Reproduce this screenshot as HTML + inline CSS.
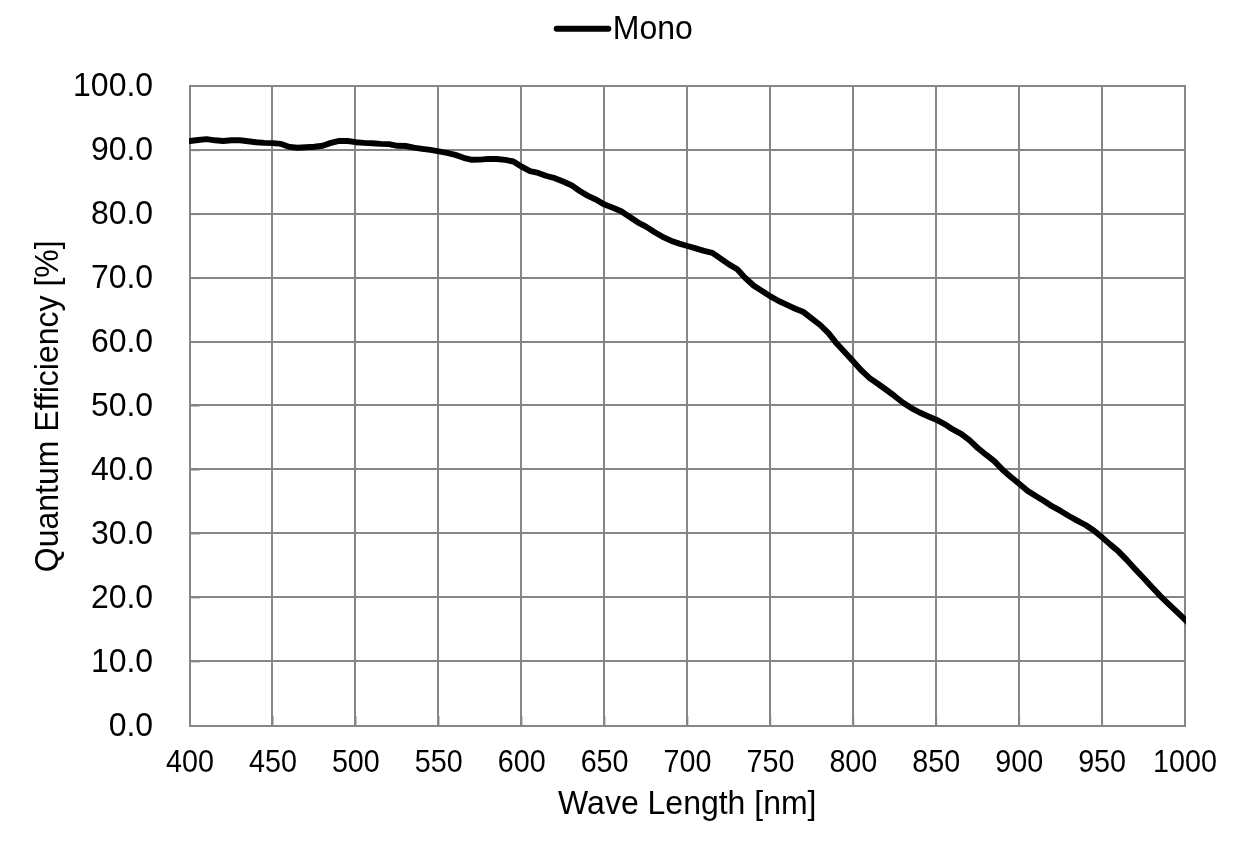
<!DOCTYPE html>
<html><head><meta charset="utf-8"><title>Quantum Efficiency</title>
<style>
html,body{margin:0;padding:0;background:#fff;}
body{width:1239px;height:847px;overflow:hidden;font-family:"Liberation Sans",sans-serif;}
svg{display:block;}
text{font-family:"Liberation Sans",sans-serif;fill:#000;}
.yl{font-size:32px;text-anchor:end;}
.xl{font-size:29.3px;text-anchor:middle;}
.t{font-size:32px;text-anchor:middle;}
</style></head><body>
<svg width="1239" height="847" viewBox="0 0 1239 847" style="will-change:transform">
<rect x="0" y="0" width="1239" height="847" fill="#fff"/>
<defs><clipPath id="pc"><rect x="189" y="80" width="997" height="650"/></clipPath></defs>
<g fill="#868686" shape-rendering="crispEdges">
<rect x="189" y="85" width="2" height="642"/>
<rect x="271" y="85" width="2" height="642"/>
<rect x="354" y="85" width="2" height="642"/>
<rect x="437" y="85" width="2" height="642"/>
<rect x="520" y="85" width="2" height="642"/>
<rect x="603" y="85" width="2" height="642"/>
<rect x="686" y="85" width="2" height="642"/>
<rect x="769" y="85" width="2" height="642"/>
<rect x="852" y="85" width="2" height="642"/>
<rect x="935" y="85" width="2" height="642"/>
<rect x="1018" y="85" width="2" height="642"/>
<rect x="1101" y="85" width="2" height="642"/>
<rect x="1184" y="85" width="2" height="642"/>
<rect x="189" y="85" width="997" height="2"/>
<rect x="189" y="149" width="997" height="2"/>
<rect x="189" y="213" width="997" height="2"/>
<rect x="189" y="277" width="997" height="2"/>
<rect x="189" y="341" width="997" height="2"/>
<rect x="189" y="404" width="997" height="2"/>
<rect x="189" y="468" width="997" height="2"/>
<rect x="189" y="532" width="997" height="2"/>
<rect x="189" y="596" width="997" height="2"/>
<rect x="189" y="660" width="997" height="2"/>
<rect x="189" y="725" width="997" height="2"/>
</g>
<g fill="#868686">
<rect x="271.92" y="716" width="2" height="10" opacity="0.6"/>
<rect x="354.83" y="716" width="2" height="10" opacity="0.6"/>
<rect x="437.75" y="716" width="2" height="10" opacity="0.6"/>
<rect x="520.67" y="716" width="2" height="10" opacity="0.6"/>
<rect x="603.58" y="716" width="2" height="10" opacity="0.6"/>
<rect x="686.50" y="716" width="2" height="10" opacity="0.6"/>
<rect x="769.42" y="716" width="2" height="10" opacity="0.6"/>
<rect x="852.33" y="716" width="2" height="10" opacity="0.6"/>
<rect x="935.25" y="716" width="2" height="10" opacity="0.6"/>
<rect x="1018.17" y="716" width="2" height="10" opacity="0.6"/>
<rect x="1101.08" y="716" width="2" height="10" opacity="0.6"/>
<rect x="191" y="149.23" width="8.5" height="2" opacity="0.6"/>
<rect x="191" y="213.16" width="8.5" height="2" opacity="0.6"/>
<rect x="191" y="277.09" width="8.5" height="2" opacity="0.6"/>
<rect x="191" y="341.02" width="8.5" height="2" opacity="0.6"/>
<rect x="191" y="404.95" width="8.5" height="2" opacity="0.6"/>
<rect x="191" y="468.88" width="8.5" height="2" opacity="0.6"/>
<rect x="191" y="532.81" width="8.5" height="2" opacity="0.6"/>
<rect x="191" y="596.74" width="8.5" height="2" opacity="0.6"/>
<rect x="191" y="660.67" width="8.5" height="2" opacity="0.6"/>
</g>
<path d="M187.00 141.36 L190.00 141.00 L198.29 140.00 L206.58 139.10 L214.88 140.30 L223.17 141.00 L231.46 140.20 L239.75 140.20 L248.04 141.20 L256.33 142.20 L264.62 142.90 L272.92 143.10 L281.21 143.90 L289.50 146.90 L297.79 147.80 L306.08 147.20 L314.38 146.80 L322.67 145.80 L330.96 142.90 L339.25 140.90 L347.54 141.00 L355.83 142.20 L364.12 142.90 L372.42 143.20 L380.71 143.90 L389.00 144.10 L397.29 145.80 L405.58 146.00 L413.88 147.60 L422.17 148.80 L430.46 149.95 L438.75 151.30 L447.04 152.80 L455.33 154.90 L463.62 157.80 L471.92 159.80 L480.21 159.60 L488.50 158.90 L496.79 159.05 L505.08 159.90 L513.38 161.50 L521.67 166.70 L529.96 171.15 L538.25 172.90 L546.54 176.00 L554.83 178.20 L563.12 181.60 L571.42 185.20 L579.71 191.00 L588.00 195.85 L596.29 199.70 L604.58 204.60 L612.88 207.80 L621.17 211.30 L629.46 216.80 L637.75 222.30 L646.04 226.60 L654.33 232.00 L662.62 236.80 L670.92 240.70 L679.21 243.60 L687.50 246.00 L695.79 248.40 L704.08 250.85 L712.38 252.80 L720.67 258.60 L728.96 264.40 L737.25 269.20 L745.54 278.30 L753.83 285.80 L762.12 291.00 L770.42 296.40 L778.71 301.00 L787.00 304.90 L795.29 308.75 L803.58 312.10 L811.88 318.60 L820.17 325.00 L828.46 333.20 L836.75 343.60 L845.04 352.60 L853.33 361.50 L861.62 370.70 L869.92 378.40 L878.21 384.00 L886.50 390.00 L894.79 396.20 L903.08 402.80 L911.38 408.10 L919.67 412.50 L927.96 416.30 L936.25 419.70 L944.54 424.10 L952.83 429.40 L961.12 433.80 L969.42 440.10 L977.71 448.00 L986.00 454.70 L994.29 461.10 L1002.58 469.76 L1010.88 477.00 L1019.17 483.74 L1027.46 490.73 L1035.75 496.01 L1044.04 500.94 L1052.33 506.45 L1060.62 510.96 L1068.92 515.96 L1077.21 520.55 L1085.50 524.99 L1093.79 530.49 L1102.08 537.35 L1110.38 544.63 L1118.67 551.58 L1126.96 560.14 L1135.25 569.28 L1143.54 578.08 L1151.83 586.96 L1160.12 595.85 L1168.42 603.83 L1176.71 611.67 L1185.00 619.70 L1188.00 622.61" fill="none" stroke="#000" stroke-width="5.9" stroke-linejoin="round" stroke-linecap="butt" clip-path="url(#pc)"/>
<line x1="556.7" y1="28.8" x2="608.3" y2="28.8" stroke="#000" stroke-width="6" stroke-linecap="round"/>
<text transform="translate(612.8 38.8) scale(1 1.03)" style="font-size:32px">Mono</text>
<text class="yl" transform="translate(153.15 96.1) scale(1 1.045)">100.0</text>
<text class="yl" transform="translate(153.15 160.1) scale(1 1.045)">90.0</text>
<text class="yl" transform="translate(153.15 224.1) scale(1 1.045)">80.0</text>
<text class="yl" transform="translate(153.15 288.1) scale(1 1.045)">70.0</text>
<text class="yl" transform="translate(153.15 352.1) scale(1 1.045)">60.0</text>
<text class="yl" transform="translate(153.15 416.1) scale(1 1.045)">50.0</text>
<text class="yl" transform="translate(153.15 480.1) scale(1 1.045)">40.0</text>
<text class="yl" transform="translate(153.15 544.1) scale(1 1.045)">30.0</text>
<text class="yl" transform="translate(153.15 608.1) scale(1 1.045)">20.0</text>
<text class="yl" transform="translate(153.15 672.1) scale(1 1.045)">10.0</text>
<text class="yl" transform="translate(153.15 736.1) scale(1 1.045)">0.0</text>
<text class="xl" transform="translate(190.00 771.6) scale(0.98 1.045)">400</text>
<text class="xl" transform="translate(272.92 771.6) scale(0.98 1.045)">450</text>
<text class="xl" transform="translate(355.83 771.6) scale(0.98 1.045)">500</text>
<text class="xl" transform="translate(438.75 771.6) scale(0.98 1.045)">550</text>
<text class="xl" transform="translate(521.67 771.6) scale(0.98 1.045)">600</text>
<text class="xl" transform="translate(604.58 771.6) scale(0.98 1.045)">650</text>
<text class="xl" transform="translate(687.50 771.6) scale(0.98 1.045)">700</text>
<text class="xl" transform="translate(770.42 771.6) scale(0.98 1.045)">750</text>
<text class="xl" transform="translate(853.33 771.6) scale(0.98 1.045)">800</text>
<text class="xl" transform="translate(936.25 771.6) scale(0.98 1.045)">850</text>
<text class="xl" transform="translate(1019.17 771.6) scale(0.98 1.045)">900</text>
<text class="xl" transform="translate(1102.08 771.6) scale(0.98 1.045)">950</text>
<text class="xl" transform="translate(1185.00 771.6) scale(0.98 1.045)">1000</text>
<text class="t" transform="translate(687.3 813.7) scale(1 1.03)">Wave Length [nm]</text>
<text class="t" transform="translate(58.1 406.3) rotate(-90) scale(1 1.03)">Quantum Efficiency [%]</text>
</svg></body></html>
